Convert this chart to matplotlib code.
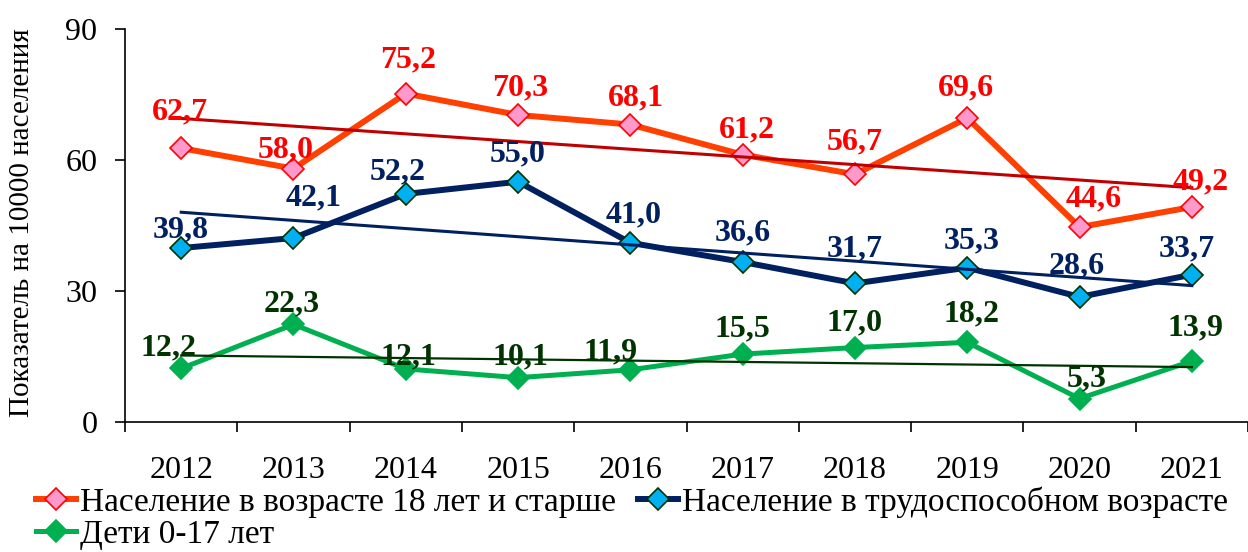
# -*- coding: utf-8 -*-
# Показатель на 10000 населения, 2012-2021

import numpy as np
import matplotlib.pyplot as plt

years        = ['2012', '2013', '2014', '2015', '2016', '2017', '2018', '2019', '2020', '2021']
adults_18    = [62.7, 58.0, 75.2, 70.3, 68.1, 61.2, 56.7, 69.6, 44.6, 49.2]
working_age  = [39.8, 42.1, 52.2, 55.0, 41.0, 36.6, 31.7, 35.3, 28.6, 33.7]
children     = [12.2, 22.3, 12.1, 10.1, 11.9, 15.5, 17.0, 18.2, 5.3, 13.9]

name_adults   = u'Население в возрасте 18 лет и старше'
name_working  = u'Население в трудоспособном возрасте'
name_children = u'Дети 0-17 лет'

# label offsets (pixels) relative to the point
off_adults   = [(-1, 36), (-8, 19), (2, 34), (2, 27), (5, 27), (4, 25), (0, 32), (-1, 30), (14, 28), (9, 25)]
off_working  = [(0, 18), (20, 40), (-8, 22), (0, 28), (3, 28), (0, 29), (0, 34), (4, 27), (-3, 31), (-5, 26)]
off_children = [(-13, 21), (-2, 21), (3, 12), (2, 21), (-20, 18), (0, 25), (0, 25), (4, 28), (7, 20), (4, 33)]

plt.rcParams['font.family'] = ['Liberation Serif', 'DejaVu Serif']

label_size = 23
fig1 = plt.figure(figsize=(12.48, 5.52), dpi=100)
ax1 = fig1.add_axes([0.1002, 0.236, 0.8998, 0.7115])

xx = np.arange(len(years))

series = [
    (adults_18,   name_adults,   '#FF4000', '#FF99CC', '#FF0000', 4.3, '#FF0000', '#C00000', 2.2, off_adults),
    (working_age, name_working,  '#002060', '#00B0F0', '#003300', 4.3, '#002060', '#002060', 2.2, off_working),
    (children,    name_children, '#00B050', '#00B050', '#00B050', 3.6, '#003300', '#003300', 1.6, off_children),
]

handles = []
for vals, name, lc, mfc, mec, lw, tc, trc, tlw, offs in series:
    ln, = ax1.plot(xx, vals, color=lc, linewidth=lw, marker='D', markersize=11,
                   markerfacecolor=mfc, markeredgecolor=mec, markeredgewidth=1.2,
                   label=name, zorder=3)
    handles.append(ln)
    # linear trend
    coef = np.polyfit(xx, vals, 1)
    ax1.plot(xx, np.polyval(coef, xx), color=trc, linewidth=tlw, zorder=4)
    for i, v in enumerate(vals):
        ax1.annotate(('%.1f' % v).replace('.', ','), xy=(xx[i], v), xytext=offs[i],
                     textcoords='offset pixels', ha='center', va='center',
                     fontsize=23, fontweight='bold', color=tc, zorder=5)

ax1.set_xlim(-0.5, len(years) - 0.5)
ax1.set_ylim(0, 90)
ax1.set_yticks([0, 30, 60, 90])
ax1.set_xticks(xx)
ax1.set_xticklabels(years)
ax1.set_xticks(np.arange(len(years) + 1) - 0.5, minor=True)
ax1.tick_params(axis='x', which='major', length=0, pad=25, labelsize=label_size)
ax1.tick_params(axis='x', which='minor', length=7, width=1.2, direction='out')
ax1.tick_params(axis='y', length=7, width=1.2, direction='out', pad=13, labelsize=label_size)

ax1.spines['top'].set_visible(False)
ax1.spines['right'].set_visible(False)
ax1.spines['left'].set_linewidth(1.2)
ax1.spines['bottom'].set_linewidth(1.2)

fig1.text(22 / 1248., 1 - 223 / 552., u'Показатель на 10000 населения', rotation=90,
          ha='center', va='center', fontsize=21)

fig1.legend([handles[0], handles[2], handles[1]], [name_adults, name_children, name_working],
            loc='upper left', bbox_to_anchor=(36 / 1248., 1 - 486 / 552.), ncol=2,
            frameon=False, fontsize=24, borderpad=0, borderaxespad=0,
            handlelength=1.2, handletextpad=0.12, columnspacing=0.66, labelspacing=0.05)

plt.savefig('out.png', format='png', dpi=100)
